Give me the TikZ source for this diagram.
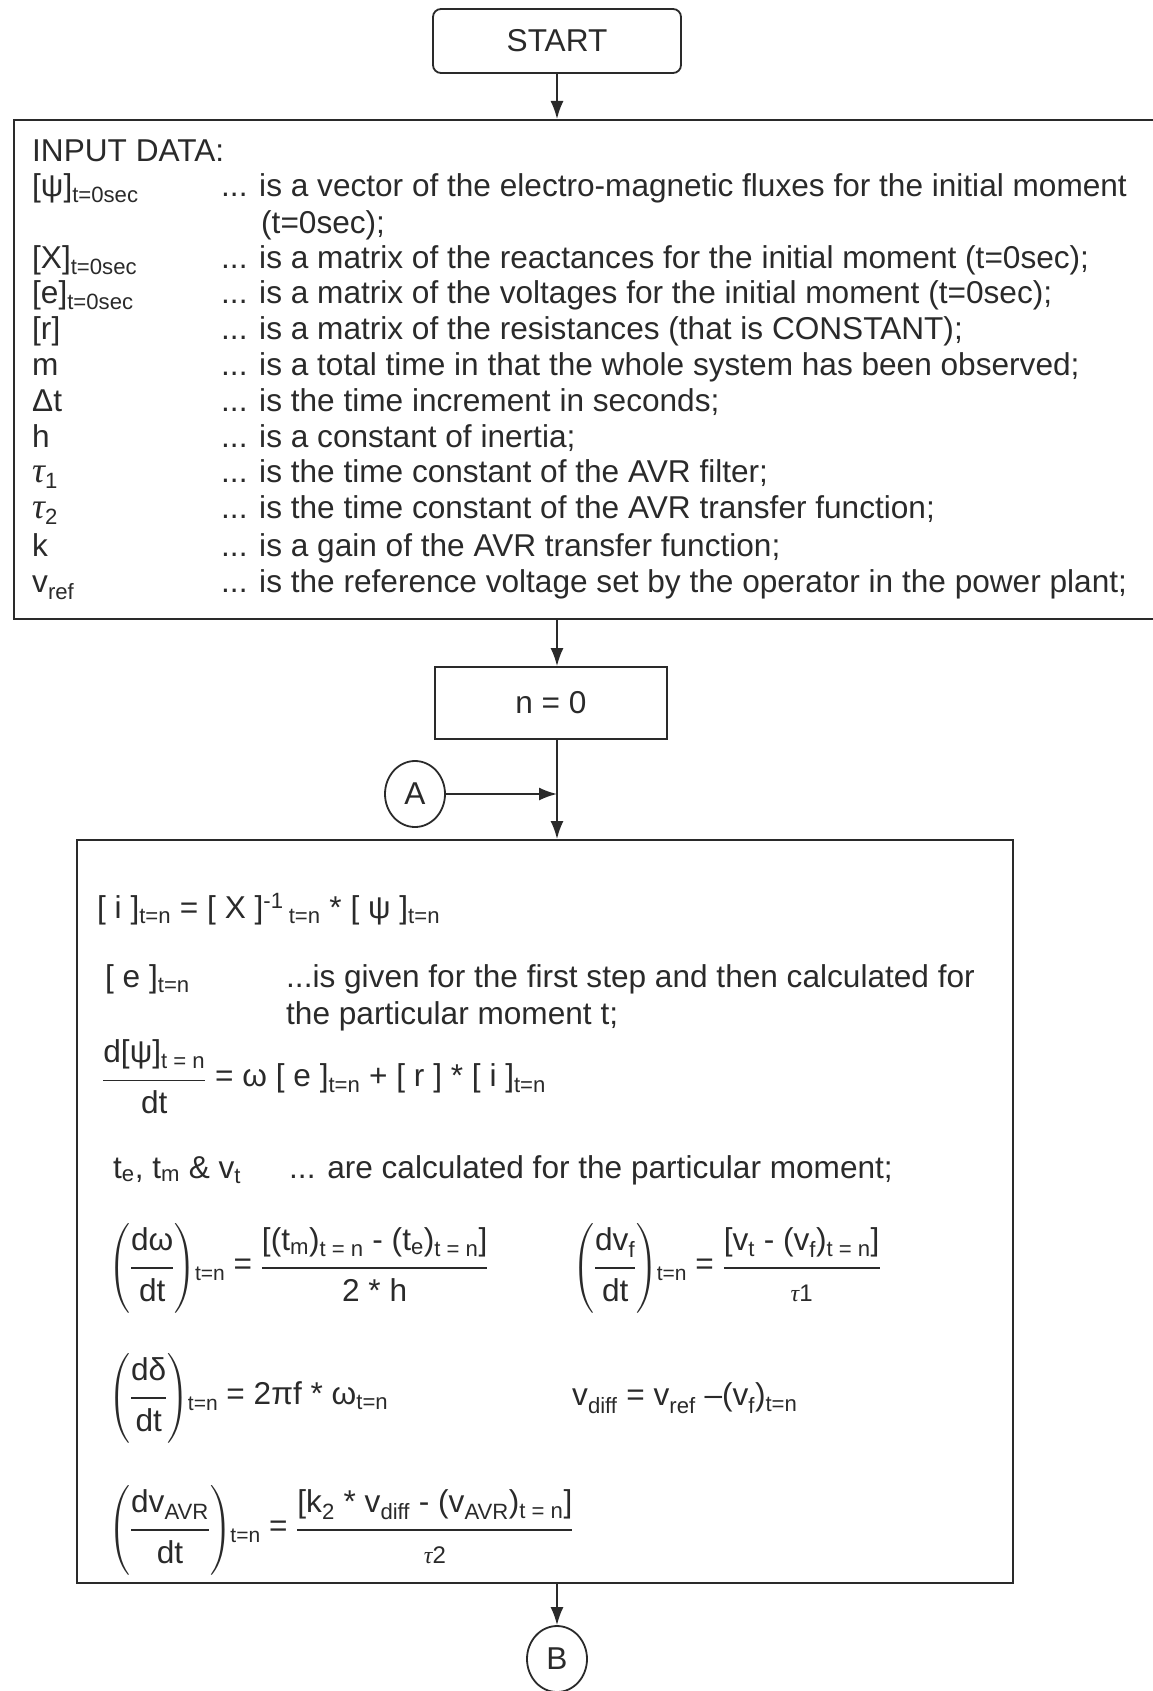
\documentclass[tikz,border=0pt]{standalone}
\usepackage{amsmath}
\usepackage{fontspec}
\setmainfont{Liberation Sans}
\newfontfamily\taufont{Liberation Serif}
\usetikzlibrary{arrows.meta,shapes.geometric,positioning}

\definecolor{ink}{HTML}{2A2A2A}
\newcommand{\tsub}[1]{\textsubscript{#1}}
\newcommand{\tauv}{{\taufont\itshape τ}}
\newcommand{\bigtau}{{\taufont\itshape\fontsize{36}{36}\selectfont τ}}
% spread fraction, as in the scan
\newcommand{\spfrac}[2]{\genfrac{}{}{1.6pt}{0}{\rule[-12pt]{0pt}{12pt}#1}{\rule{0pt}{28pt}#2}}
\newcommand{\atn}{\mkern-4mu\text{\raisebox{-6pt}{\fontsize{21}{21}\selectfont t=n}}}

\begin{document}
\begin{tikzpicture}[x=1pt,y=-1pt,
    every node/.style={font=\fontsize{31.6}{36}\selectfont, text=ink},
    box/.style={draw=ink, line width=1.8pt, rectangle, inner sep=0pt},
    conn/.style={draw=ink, ellipse, line width=1.8pt, inner sep=0pt,
                 minimum width=60pt, minimum height=66pt},
    flow/.style={draw=ink, line width=1.8pt, -{Latex[length=18pt,width=13pt]}},
    txt/.style={anchor=base west, inner sep=0pt},
    eqn/.style={anchor=west, inner sep=0pt}]
    \useasboundingbox (0,0) rectangle (1152,1691);

    % --- Boxes and connectors ---
    \coordinate (spine) at (557,0);
    \node[box, rounded corners=8pt, minimum width=248pt, minimum height=64pt] (start) at (557,41) {START};
    \node[box, minimum width=1160pt, minimum height=499pt, anchor=north west] (input) at (13,119) {};
    \node[box, minimum width=232pt, minimum height=72pt] (init) at (551,703) {n = 0};
    \node[conn] (conA) at (415,794) {A};
    \node[box, minimum width=936pt, minimum height=743pt, anchor=north west] (main) at (76,839) {};
    \node[conn] (conB) at (557,1659) {B};

    \draw[flow] (spine |- start.south) -- (spine |- input.north);
    \draw[flow] (spine |- input.south) -- (spine |- init.north);
    \draw[flow] (spine |- init.south) -- (spine |- main.north);
    \draw[flow] (conA) -- (conA -| spine);
    \draw[flow] (spine |- main.south) -- (conB);

    % --- Input data ---
    \node[txt] (hdr) at (32,161) {INPUT DATA:};
    \node[txt] (sPsi) at (32,196) {[ψ]\tsub{t=0sec}};
    \node[txt] (dPsi) at (221,196) {... is a vector of the electro-magnetic fluxes for the initial moment};
    \node[txt] (dPsiB) at (261,233) {(t=0sec);};
    \node[txt] (sX) at (32,268) {[X]\tsub{t=0sec}};
    \node[txt] (dX) at (221,268) {... is a matrix of the reactances for the initial moment (t=0sec);};
    \node[txt] (sE) at (32,303) {[e]\tsub{t=0sec}};
    \node[txt] (dE) at (221,303) {... is a matrix of the voltages for the initial moment (t=0sec);};
    \node[txt] (sR) at (32,339) {[r]};
    \node[txt] (dR) at (221,339) {... is a matrix of the resistances (that is CONSTANT);};
    \node[txt] (sM) at (32,375) {m};
    \node[txt] (dM) at (221,375) {... is a total time in that the whole system has been observed;};
    \node[txt] (sDt) at (32,411) {Δt};
    \node[txt] (dDt) at (221,411) {... is the time increment in seconds;};
    \node[txt] (sH) at (32,447) {h};
    \node[txt] (dH) at (221,447) {... is a constant of inertia;};
    \node[txt] (sTa) at (32,482) {\bigtau\tsub{1}};
    \node[txt] (dTa) at (221,482) {... is the time constant of the AVR filter;};
    \node[txt] (sTb) at (32,518) {\bigtau\tsub{2}};
    \node[txt] (dTb) at (221,518) {... is the time constant of the AVR transfer function;};
    \node[txt] (sK) at (32,556) {k};
    \node[txt] (dK) at (221,556) {... is a gain of the AVR transfer function;};
    \node[txt] (sV) at (32,592) {v\tsub{ref}};
    \node[txt] (dV) at (221,592) {... is the reference voltage set by the operator in the power plant;};

    % --- Calculation block ---
    \node[txt] (eqI) at (97,918) {[ i ]\tsub{t=n} = [ X ]\textsuperscript{-1}\,\tsub{t=n} * [ ψ ]\tsub{t=n}};
    \node[txt] (eqE) at (105,987) {[ e ]\tsub{t=n}};
    \node[txt] (dEa) at (286,987) {...is given for the first step and then calculated for};
    \node[txt] (dEb) at (286,1024) {the particular moment t;};
    \node[eqn] (eqPsi) at (102,1077) {$\spfrac{\text{d[ψ]\tsub{t = n}}}{\text{dt}}\text{ = ω [ e ]\tsub{t=n} + [ r ] * [ i ]\tsub{t=n}}$};
    \node[txt] (sT) at (113,1178) {t\tsub{e}, t\tsub{m} \& v\tsub{t}};
    \node[txt] (dT) at (289,1178) {... are calculated for the particular moment;};
    \node[eqn] (eqW) at (108,1268) {$\left(\spfrac{\text{dω}}{\text{dt}}\right)\atn\text{ = }
        \spfrac{\text{[(t\tsub{m})\tsub{t = n} - (t\tsub{e})\tsub{t = n}]}}{\text{2 * h}}$};
    \node[eqn] (eqVf) at (572,1268) {$\left(\spfrac{\text{dv\tsub{f}}}{\text{dt}}\right)\atn\text{ = }
        \spfrac{\text{[v\tsub{t} - (v\tsub{f})\tsub{t = n}]}}{\text{\fontsize{24}{28}\selectfont\tauv 1}}$};
    \node[eqn] (eqD) at (108,1398) {$\left(\spfrac{\text{dδ}}{\text{dt}}\right)\atn\text{ = 2πf * ω\tsub{t=n}}$};
    \node[eqn] (eqDiff) at (572,1398) {v\tsub{diff} = v\tsub{ref} –(v\tsub{f})\tsub{t=n}};
    \node[eqn] (eqAvr) at (108,1530) {$\left(\spfrac{\text{dv\tsub{AVR}}}{\text{dt}}\right)\atn\text{ = }
        \spfrac{\text{[k\tsub{2} * v\tsub{diff} - (v\tsub{AVR})\tsub{t = n}]}}{\text{\fontsize{24}{28}\selectfont\tauv 2}}$};
\end{tikzpicture}
\end{document}
